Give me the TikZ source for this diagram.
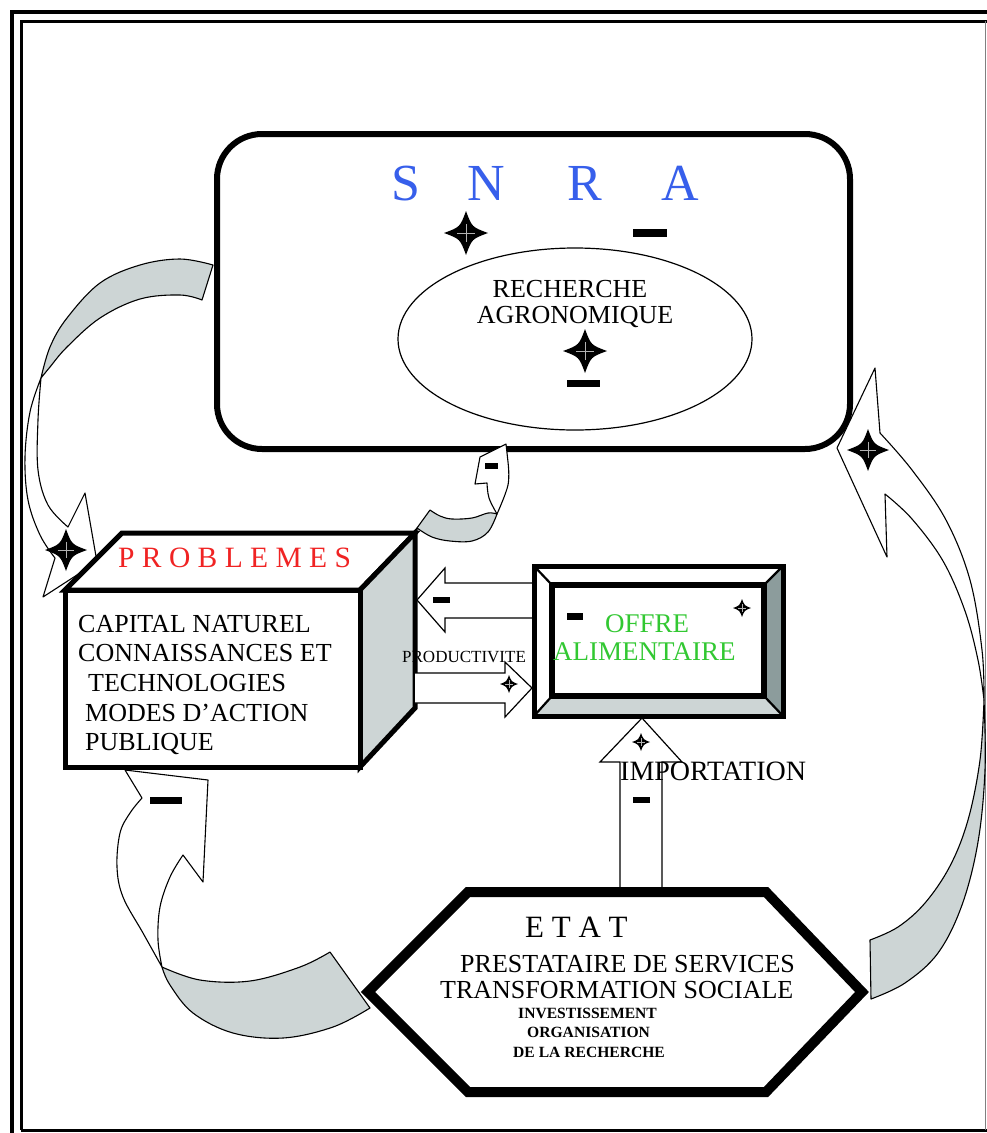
\documentclass[tikz,border=0pt]{standalone}
\usepackage{fontspec}
\setmainfont{Liberation Serif}
\usetikzlibrary{shapes.geometric}
\definecolor{snrablue}{RGB}{55,95,235}
\definecolor{probred}{RGB}{240,35,35}
\definecolor{offregreen}{RGB}{50,200,50}
\definecolor{ribgrey}{RGB}{205,213,213}
\definecolor{bevdark}{RGB}{140,156,156}
\tikzset{
  lbl/.style={inner sep=0pt, anchor=base west},
  fs/.style={font=\fontsize{#1pt}{#1pt}\selectfont},
  fsb/.style={font=\fontsize{#1pt}{#1pt}\selectfont\bfseries},
  ribbon/.style={draw=black, line width=1.1pt, line join=round},
  blockarrow/.style={draw=black, fill=white, line width=1.2pt, line join=miter},
  heavy/.style={line width=5pt, line join=miter},
  pics/fourstar/.style={code={
    \fill[black] (0,#1) .. controls (0.27*#1,0.27*#1) .. (#1,0)
      .. controls (0.27*#1,-0.27*#1) .. (0,-#1)
      .. controls (-0.27*#1,-0.27*#1) .. (-#1,0)
      .. controls (-0.27*#1,0.27*#1) .. (0,#1) -- cycle;
    \draw[gray!60, line width=0.5pt] (0,-0.4*#1) -- (0,0.4*#1) (-0.4*#1,0) -- (0.4*#1,0);
  }},
}
\begin{document}
\begin{tikzpicture}[x=1pt,y=-1pt]
\useasboundingbox (0,0) rectangle (987,1133);
\clip (0,0) rectangle (987,1133);
\fill[white] (0,0) rectangle (987,1133);

% double frame
\draw[line width=3.5pt] (12,1150) -- (12,12) -- (1000,12);
\draw[line width=3pt] (21,1130) -- (21,21) -- (1000,21);
\draw[line width=3pt] (21,1130) -- (990,1130);
\draw[gray, line width=1pt] (985,21) -- (985,1130);

% SNRA
\node[draw, line width=6pt, rounded corners=45pt, minimum width=633pt, minimum height=315pt, fill=white] (snra) at (533.5,291.5) {};
\node[fs=52, text=snrablue, inner sep=0pt, anchor=base] (s1) at (406,200) {S};
\node[fs=52, text=snrablue, inner sep=0pt, anchor=base] (s2) at (486,200) {N};
\node[fs=52, text=snrablue, inner sep=0pt, anchor=base] (s3) at (585,200) {R};
\node[fs=52, text=snrablue, inner sep=0pt, anchor=base] (s4) at (680,200) {A};
\pic at (466,233) {fourstar=22};
\fill (633,229) rectangle (667,237);
\node[draw, ellipse, line width=1.2pt, minimum width=354pt, minimum height=182pt] (rech) at (575,339) {};
\node[inner sep=0pt, anchor=base, align=center, font=\fontsize{26pt}{26pt}\selectfont] (recht) at (575,323) {\hspace*{-10pt}RECHERCHE\\AGRONOMIQUE};
\pic at (585,351) {fourstar=22};
\fill (567,380) rectangle (600,387);

% curved feedback ribbons
% top left: SNRA -> problems
\filldraw[ribbon, fill=ribgrey] plot[smooth, tension=0.6] coordinates {(213,265) (180,259) (140,265) (100,283) (67,318) (50,347) (41,378)}
  -- plot[smooth, tension=0.6] coordinates {(41,378) (50,367) (67,347) (100,318) (140,299) (180,295) (202,300)} -- cycle;
\filldraw[ribbon, fill=white] plot[smooth, tension=0.6] coordinates {(41,378) (30,412) (25,457) (28,500) (40,535) (55,558)}
  -- (43,597) -- (97,562) -- (85,493)
  -- plot[smooth, tension=0.6] coordinates {(68,527) (48,505) (38,470) (38,420) (41,378)} -- cycle;
% small: problems -> SNRA
\filldraw[ribbon, fill=ribgrey] plot[smooth, tension=0.6] coordinates {(417,528) (432,537) (450,541) (472,541) (488,532) (497,514)}
  -- plot[smooth, tension=0.6] coordinates {(497,514) (488,513) (472,518) (452,519) (440,516) (430,510)} -- cycle;
\filldraw[ribbon, fill=white] plot[smooth, tension=0.6] coordinates {(497,514) (489,498) (487,483)}
  -- (475,484) -- (480,457) -- (506,444)
  -- plot[smooth, tension=0.6] coordinates {(508,462) (508,485) (497,514)} -- cycle;
% right: state -> SNRA
\filldraw[ribbon, fill=ribgrey] plot[smooth, tension=0.6] coordinates {(871,999) (905,983) (938,953) (962,905) (978,842) (985,770) (984,700)}
  -- plot[smooth, tension=0.6] coordinates {(984,700) (980,760) (968,820) (950,866) (925,903) (898,927) (870,940)} -- cycle;
\filldraw[ribbon, fill=white] plot[smooth, tension=0.6] coordinates {(984,700) (982,650) (970,580) (946,520) (912,470) (880,433)}
  -- (875,368) -- (837,448) -- (887,557)
  -- plot[smooth, tension=0.6] coordinates {(885,494) (912,519) (943,561) (965,611) (978,660) (984,700)} -- cycle;
% bottom left: state -> problems
\filldraw[ribbon, fill=ribgrey] plot[smooth, tension=0.6] coordinates {(330,952) (300,967) (250,981) (200,980) (162,967)}
  -- plot[smooth, tension=0.6] coordinates {(162,967) (170,985) (193,1013) (233,1033) (283,1038) (333,1027) (370,1008)} -- cycle;
\filldraw[ribbon, fill=white] plot[smooth, tension=0.6] coordinates {(162,967) (143,933) (123,897) (117,867) (120,833) (130,813) (142,798)}
  -- (125,770) -- (208,780) -- (203,882)
  -- plot[smooth, tension=0.6] coordinates {(183,855) (170,877) (160,907) (158,940) (162,967)} -- cycle;

% problems cube
\filldraw[heavy, fill=white] (65,590) -- (122,533) -- (415,533) -- (360,590) -- cycle;
\filldraw[heavy, fill=ribgrey] (360,590) -- (415,533) -- (415,708) -- (360,767) -- cycle;
\node[draw, heavy, fill=white, minimum width=295pt, minimum height=177pt, inner sep=0pt] (prob) at (212.5,678.5) {};
\node[lbl, fs=29.5, text=probred] (probt) at (118,567) {P R O B L E M E S};
\node[lbl, fs=26] (p1) at (78,632) {CAPITAL NATUREL};
\node[lbl, fs=26] (p2) at (78,661) {CONNAISSANCES ET};
\node[lbl, fs=26] (p3) at (88,691) {TECHNOLOGIES};
\node[lbl, fs=26] (p4) at (85,721) {MODES D’ACTION};
\node[lbl, fs=26] (p5) at (85,750) {PUBLIQUE};

% arrows between problems and food supply
\draw[blockarrow] (533,583) -- (445,583) -- (445,568) -- (417,600) -- (445,632) -- (445,618) -- (533,618);
\draw[blockarrow] (415,673) -- (505,673) -- (505,662) -- (532,688) -- (505,717) -- (505,703) -- (415,703);
\node[lbl, fs=17] (prod) at (402,662) {PRODUCTIVITE};

% food supply frame
\fill[white] (534,566) rectangle (783,716);
\fill[bevdark] (783,566) -- (783,716) -- (764,696) -- (764,585) -- cycle;
\fill[ribgrey] (534,716) -- (783,716) -- (764,696) -- (552,696) -- cycle;
\draw[line width=2.2pt] (534,566) -- (552,585) (783,566) -- (764,585) (783,716) -- (764,696) (534,716) -- (552,696);
\node[draw, line width=5.5pt, minimum width=212pt, minimum height=111pt, inner sep=0pt] (offrein) at (658,640.5) {};
\node[draw, heavy, minimum width=249pt, minimum height=150pt, inner sep=0pt] (offre) at (658.5,641) {};
\node[lbl, fs=27, text=offregreen] (o1) at (605,632) {OFFRE};
\node[lbl, fs=27, text=offregreen] (o2) at (553,660) {ALIMENTAIRE};

% import arrow
\draw[blockarrow] (620,892) -- (620,762) -- (600,762) -- (642,718) -- (682,762) -- (662,762) -- (662,892);
\node[lbl, fs=28] (imp) at (620,780) {IMPORTATION};

% state hexagon
\filldraw[line width=10pt, line join=miter, fill=white] (368,992) -- (468,892) -- (766,892) -- (862,992) -- (766,1092) -- (468,1092) -- cycle;
\node[lbl, fs=31] (e0) at (525,937) {E T A T};
\node[lbl, fs=26] (e1) at (460,972) {PRESTATAIRE DE SERVICES};
\node[lbl, fs=26] (e2) at (440,998) {TRANSFORMATION SOCIALE};
\node[lbl, fsb=15.6] (e3) at (518,1018) {INVESTISSEMENT};
\node[lbl, fsb=15.6] (e4) at (527,1037) {ORGANISATION};
\node[lbl, fsb=15.6] (e5) at (513,1057) {DE LA RECHERCHE};

% signs
\pic at (66,550) {fourstar=21};
\pic at (868,450) {fourstar=21};
\pic at (742,608) {fourstar=9};
\pic at (509,684) {fourstar=9};
\pic at (641,742) {fourstar=9};
\fill (433,597) rectangle (450,603);
\fill (567,613) rectangle (583,620);
\fill (633,797) rectangle (650,803);
\fill (485,463) rectangle (498,469);
\fill (150,797) rectangle (182,804);
\end{tikzpicture}
\end{document}
